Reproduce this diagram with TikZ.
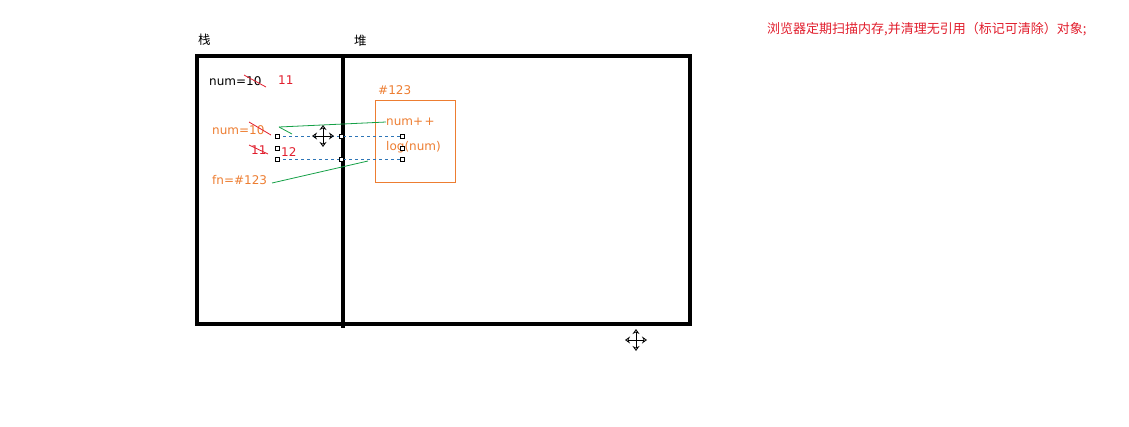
\documentclass[tikz,border=0pt]{standalone}
\usepackage{fontspec}
\setmainfont{DejaVu Sans}
\newfontfamily\cjk{Noto Sans CJK SC}
\usetikzlibrary{arrows.meta}
\definecolor{ora}{RGB}{237,125,49}
\definecolor{rd}{RGB}{225,30,45}
\definecolor{grn}{RGB}{20,160,70}
\definecolor{blu}{RGB}{46,117,182}
\tikzset{
  lbl/.style={inner sep=0pt, anchor=west, font=\fontsize{12}{14}\selectfont},
  clbl/.style={inner sep=0pt, anchor=west, font=\cjk\fontsize{12.5}{14}\selectfont},
  heavy/.style={line width=4.5pt},
  strike/.style={draw=rd, line width=0.8pt},
  glink/.style={draw=grn, line width=0.8pt},
  sel/.style={draw=blu, dashed, line width=0.7pt},
  hnd/.style={draw=black, fill=white, line width=0.5pt, minimum size=4pt, inner sep=0pt, rectangle},
  mv/.style={line width=0.7pt, -{Stealth[open,length=5pt,width=7pt]}}
}
\newcommand{\movecursor}[1]{%
  \draw[mv] (#1) -- ++(0,-11);
  \draw[mv] (#1) -- ++(0,11);
  \draw[mv] (#1) -- ++(-11,0);
  \draw[mv] (#1) -- ++(11,0);
}
\begin{document}
\begin{tikzpicture}[x=1pt,y=-1pt]
\useasboundingbox (0,0) rectangle (1129,426);
% frames
\draw[heavy] (197,56) rectangle (690,324) ;
\coordinate (dtop) at (343,56);
\coordinate (dbot) at (343,328);
\draw[line width=4pt] (dtop) -- (dbot);
\node[clbl] (zhan) at (198,40) {栈};
\node[clbl] (dui) at (354,41) {堆};
% stack contents
\node[lbl] (num1) at (209,81) {num=10};
\node[lbl, text=rd] (v11) at (278,80) {11};
\coordinate (s1a) at (244,75);
\coordinate (s1b) at (266,87);
\draw[strike] (s1a) -- (s1b);
\node[lbl, text=ora] (num2) at (212,130) {num=10};
\coordinate (s2a) at (249,122);
\coordinate (s2b) at (271,135);
\draw[strike] (s2a) -- (s2b);
\node[lbl, text=rd] (v11b) at (251,150) {11};
\coordinate (s3a) at (249,145);
\coordinate (s3b) at (268,154);
\draw[strike] (s3a) -- (s3b);
\node[lbl, text=rd] (v12) at (281,152) {12};
\node[lbl, text=ora] (fn) at (212,180) {fn=\#123};
% heap object
\draw[ora, line width=0.8pt] (375,100) rectangle (455,182);
\node[lbl, text=ora] (h123) at (378,90) {\#123};
\node[lbl, text=ora] (npp) at (386,122) {num+\hspace{1.5pt}+};
\node[lbl, text=ora] (log) at (386,147) {log(num)};
% green links
\coordinate (g1) at (279,127);
\coordinate (g1b) at (292,134);
\draw[glink] (npp.west) -- (g1);
\draw[glink] (g1) -- (g1b);
\coordinate (g2) at (272,183);
\coordinate (g2b) at (368,161);
\draw[glink] (g2) -- (g2b);
% selection
\coordinate (c1) at (277,136);
\coordinate (c2) at (402,136);
\coordinate (c3) at (277,159);
\coordinate (c4) at (402,159);
\draw[sel] (c1) -- (c2);
\draw[sel] (c3) -- (c4);
\foreach \p in {(277,136),(341,136),(402,136),(277,148),(402,148),(277,159),(341,159),(402,159)}
  \node[hnd] at \p {};
% cursors
\coordinate (m1) at (323,136);
\coordinate (m2) at (636,340);
\movecursor{m1}
\movecursor{m2}
% note
\node[clbl, text=rd, font=\cjk\fontsize{13}{15}\selectfont] (note) at (767,29) {浏览器定期扫描内存,并清理无引用（标记可清除）对象;};
\end{tikzpicture}
\end{document}
